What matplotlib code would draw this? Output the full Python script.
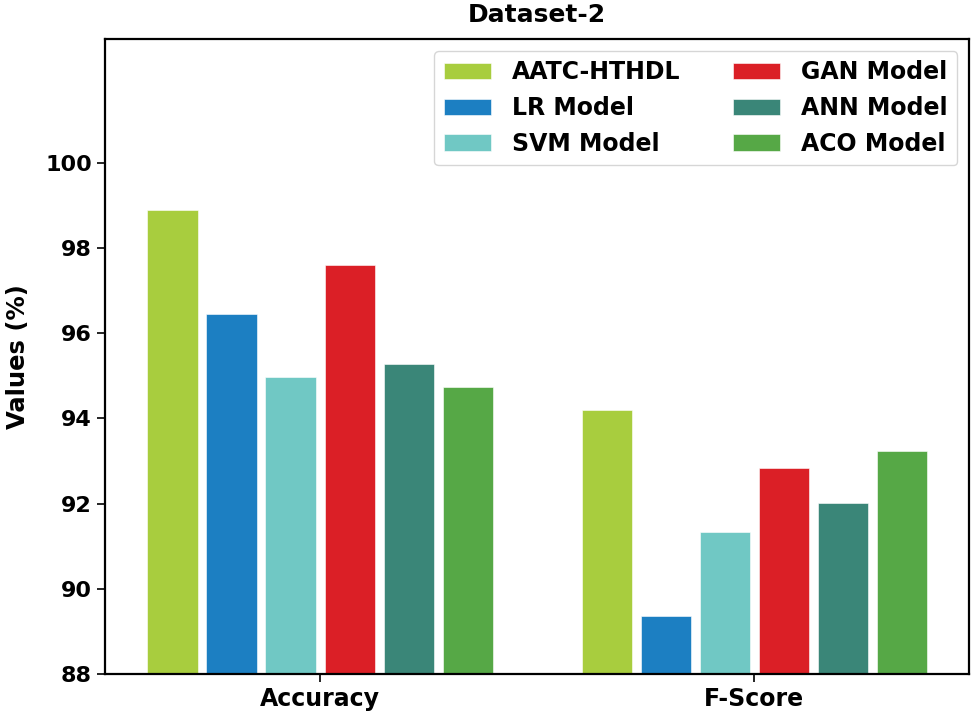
import matplotlib
matplotlib.use("Agg")
import matplotlib.pyplot as plt
import numpy as np

categories = ["Accuracy", "F-Score"]
models = ["AATC-HTHDL", "LR Model", "SVM Model", "GAN Model", "ANN Model", "ACO Model"]
aatc = [98.88, 94.20]
lr = [96.44, 89.36]
svm = [94.97, 91.32]
gan = [97.59, 92.84]
ann = [95.27, 92.02]
aco = [94.74, 93.24]
series = [aatc, lr, svm, gan, ann, aco]
colors = ["#a8cd3e", "#1c7fc2", "#70c8c4", "#db1f26", "#3a8678", "#56a846"]
yticks = [88, 90, 92, 94, 96, 98, 100]

fig = plt.figure(figsize=(9.75, 7.18), dpi=100)
ax = fig.add_axes([0.108, 0.0613, 0.886, 0.8844])

x = np.arange(len(categories))
step = 0.136
width = 0.116
for i, (vals, c, name) in enumerate(zip(series, colors, models)):
    ax.bar(x + (i - 2.5) * step, vals, width=width, color=c, label=name,
           edgecolor="white", linewidth=0.4)

ax.set_xlim(-0.495, 1.495)
ax.set_ylim(88, 102.9)
ax.set_yticks(yticks)
ax.set_yticklabels([str(t) for t in yticks], fontsize=16, fontweight="bold")
ax.set_xticks(x)
ax.set_xticklabels(categories, fontsize=17, fontweight="bold")
ax.set_ylabel("Values (%)", fontsize=17.5, fontweight="bold", labelpad=11)
ax.set_title("Dataset-2", fontsize=18, fontweight="bold", pad=12)
for s in ax.spines.values():
    s.set_linewidth(1.6)
ax.tick_params(width=1.2, length=6)

leg = ax.legend(ncol=2, loc="upper right", prop={"size": 17, "weight": "bold"},
                columnspacing=2.2, borderaxespad=0.5, labelspacing=0.5,
                handletextpad=0.9)

fig.savefig("out.png", dpi=100)
